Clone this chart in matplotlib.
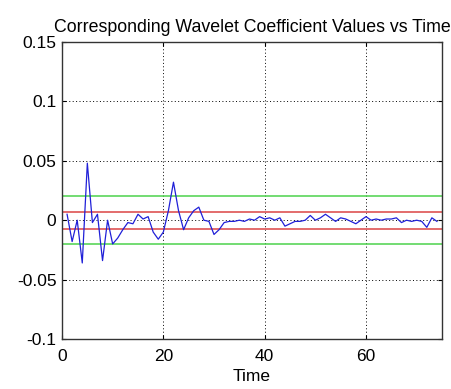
import matplotlib
matplotlib.use("Agg")
import matplotlib.pyplot as plt
import numpy as np

time = np.arange(1, 75)
coeffs = np.array([
    0.005, -0.018, 0.000, -0.036, 0.048, -0.002, 0.005, -0.034, 0.000, -0.020,
    -0.015, -0.008, -0.002, -0.003, 0.005, 0.001, 0.003, -0.010, -0.016, -0.010,
    0.008, 0.032, 0.008, -0.008, 0.002, 0.008, 0.011, 0.000, -0.001, -0.012,
    -0.008, -0.002, -0.001, -0.001, 0.000, -0.001, 0.001, 0.000, 0.003, 0.001,
    0.002, 0.000, 0.002, -0.005, -0.003, -0.001, -0.001, 0.000, 0.004, 0.000,
    0.002, 0.005, 0.002, -0.001, 0.002, 0.001, -0.001, -0.003, 0.000, 0.003,
    0.000, 0.001, 0.000, 0.001, 0.001, 0.002, -0.002, 0.000, -0.001, 0.000,
    -0.001, -0.006, 0.002, -0.001,
])

# threshold levels
inner_thresh = 0.0072
outer_thresh = 0.02

yticks = [-0.1, -0.05, 0, 0.05, 0.1, 0.15]
ytick_labels = ["-0.1", "-0.05", "0", "0.05", "0.1", "0.15"]
xticks = [0, 20, 40, 60]


def main() -> None:
    plt.rcParams['font.family'] = ['Liberation Sans', 'DejaVu Sans']
    fig = plt.figure(figsize=(4.52, 3.89), dpi=100)
    ax = fig.add_axes([62 / 452, 1 - 339 / 389, 380 / 452, 297 / 389])

    for lvl in (outer_thresh, -outer_thresh):
        ax.axhline(lvl, color='#4cd24c', linewidth=1.1)
    for lvl in (inner_thresh, -inner_thresh):
        ax.axhline(lvl, color='#e06060', linewidth=1.3)
    ax.plot(time, coeffs, color='#2020d8', linewidth=0.9)

    ax.set_xlim(0, 75)
    ax.set_ylim(-0.1, 0.15)
    ax.set_xticks(xticks)
    ax.set_yticks(yticks)
    ax.set_yticklabels(ytick_labels)
    ax.grid(True, color='black', linestyle=(0, (1, 2.5)), linewidth=0.7)
    ax.tick_params(direction='in', length=3, labelsize=12.5, top=True, right=True,
                   pad=4)
    ax.tick_params(axis='x', pad=7)
    for s in ax.spines.values():
        s.set_linewidth(1.0)
        s.set_color('#333333')

    ax.set_xlabel("Time", fontsize=12.5, labelpad=4)
    ax.set_title("Corresponding Wavelet Coefficient Values vs Time", fontsize=12.8,
                 pad=7)

    fig.savefig("out.png", dpi=100)


if __name__ == "__main__":
    main()
